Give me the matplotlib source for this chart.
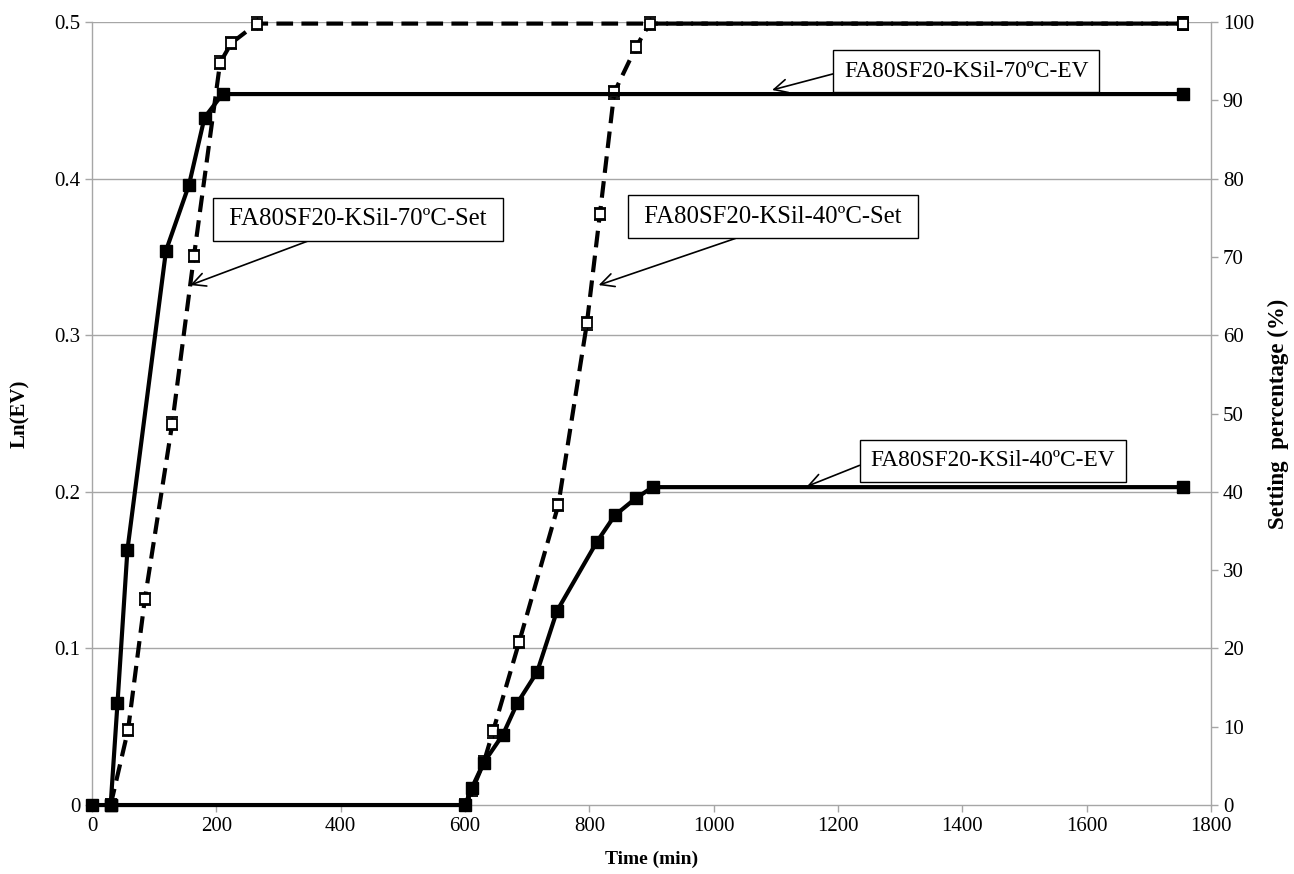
import matplotlib
matplotlib.use("Agg")
import matplotlib.pyplot as plt
import numpy as np

# ---- data ----
# 70 ºC, Ln(EV) (left axis)
t_ev70 = [0, 30, 41, 57, 119, 156, 181, 210, 1755]
ev70 = [0.0, 0.0, 0.065, 0.163, 0.354, 0.396, 0.439, 0.454, 0.454]

# 40 ºC, Ln(EV) (left axis)
t_ev40 = [30, 600, 611, 630, 661, 684, 716, 748, 812, 841, 875, 902, 1755]
ev40 = [0.0, 0.0, 0.011, 0.027, 0.045, 0.065, 0.085, 0.124, 0.168, 0.185, 0.196, 0.203, 0.203]

# 70 ºC, setting percentage (right axis)
t_set70 = [30, 58, 85, 129, 164, 206, 224, 265, 1755]
set70 = [0.0, 9.6, 26.3, 48.7, 70.1, 94.8, 97.3, 99.8, 99.8]

# 40 ºC, setting percentage (right axis)
t_set40 = [600, 612, 630, 645, 687, 750, 796, 817, 840, 875, 897, 1755]
set40 = [0.0, 2.0, 5.4, 9.4, 20.8, 38.3, 61.5, 75.5, 91.0, 96.8, 99.8, 99.8]

err_ev = 0.003
err_set = 0.8

plt.rcParams.update({
    "font.family": ["Liberation Serif", "DejaVu Serif"],
    "font.size": 15,
})

fig = plt.figure(figsize=(12.94, 8.74), dpi=100)
ax = fig.add_axes([0.0711, 0.0789, 0.8648, 0.8959])
ax2 = ax.twinx()

# EV axis on top of the setting axis, grid lives on the lower one
ax.set_zorder(ax2.get_zorder() + 1)
ax.patch.set_visible(False)

ax.set_xlim(0, 1800)
ax.set_ylim(0, 0.5)
ax2.set_ylim(0, 100)

ax.set_xticks(np.arange(0, 1801, 200))
ax.set_yticks(np.arange(0, 0.51, 0.1))
ax.set_yticklabels(["0", "0.1", "0.2", "0.3", "0.4", "0.5"])
ax2.set_yticks(np.arange(0, 101, 10))

for yv in np.arange(20, 101, 20):
    ax2.axhline(yv, color="#a6a6a6", linewidth=1.0, zorder=0)

for a in (ax, ax2):
    for s in a.spines.values():
        s.set_color("#a6a6a6")
        s.set_linewidth(1.0)
    a.spines["top"].set_visible(False)
    a.tick_params(colors="#a6a6a6", labelcolor="black", length=5, width=1.0,
                  labelsize=15, direction="out")
ax.spines["right"].set_visible(False)
ax2.spines["left"].set_visible(False)
ax2.spines["bottom"].set_visible(False)

# dashed setting curves with open squares
for tt, vv in ((t_set70, set70), (t_set40, set40)):
    ax2.errorbar(tt, vv, yerr=err_set, color="black", linewidth=3.0,
                 linestyle=(0, (4, 2)), marker="s", markersize=7.5,
                 markerfacecolor="white", markeredgecolor="black",
                 markeredgewidth=1.3, capsize=4, elinewidth=1.0,
                 capthick=1.0, clip_on=False, zorder=3)

# solid EV curves with filled squares
for tt, vv in ((t_ev70, ev70), (t_ev40, ev40)):
    ax.errorbar(tt, vv, yerr=err_ev, color="black", linewidth=3.0,
                marker="s", markersize=9, markerfacecolor="black",
                markeredgecolor="black", capsize=4, elinewidth=1.0,
                capthick=1.0, clip_on=False, zorder=3)

ax.set_xlabel("Time (min)", fontsize=14, fontweight="bold", labelpad=11)
ax.set_ylabel("Ln(EV)", fontsize=15, fontweight="bold", labelpad=17)
ax2.set_ylabel("Setting  percentage (%)", fontsize=16.5, fontweight="bold", labelpad=10)

# callout labels
box_ev = dict(boxstyle="square,pad=0.45", facecolor="white", edgecolor="black", linewidth=1.0)
box_set = dict(boxstyle="square,pad=0.42", facecolor="white", edgecolor="black", linewidth=1.0)


def arrow(rel):
    return dict(arrowstyle="->", color="black", linewidth=1.2, mutation_scale=24,
                relpos=rel, shrinkA=0, shrinkB=0)


ax.annotate("FA80SF20-KSil-70ºC-EV", xy=(1094, 0.4566), xytext=(1406, 0.4687),
            ha="center", va="center", fontsize=16.8, bbox=box_ev,
            arrowprops=arrow((0, 0.5)), zorder=6)
ax.annotate(" FA80SF20-KSil-70ºC-Set ", xy=(158, 0.332), xytext=(428, 0.374),
            ha="center", va="center", fontsize=17.8, bbox=box_set,
            arrowprops=arrow((0.42, 0)), zorder=6)
ax.annotate(" FA80SF20-KSil-40ºC-Set ", xy=(815, 0.332), xytext=(1095, 0.3758),
            ha="center", va="center", fontsize=17.8, bbox=box_set,
            arrowprops=arrow((0.48, 0)), zorder=6)
ax.annotate("FA80SF20-KSil-40ºC-EV", xy=(1150, 0.2035), xytext=(1449, 0.2197),
            ha="center", va="center", fontsize=16.8, bbox=box_ev,
            arrowprops=arrow((0, 0.5)), zorder=6)

fig.savefig("out.png", dpi=100)
